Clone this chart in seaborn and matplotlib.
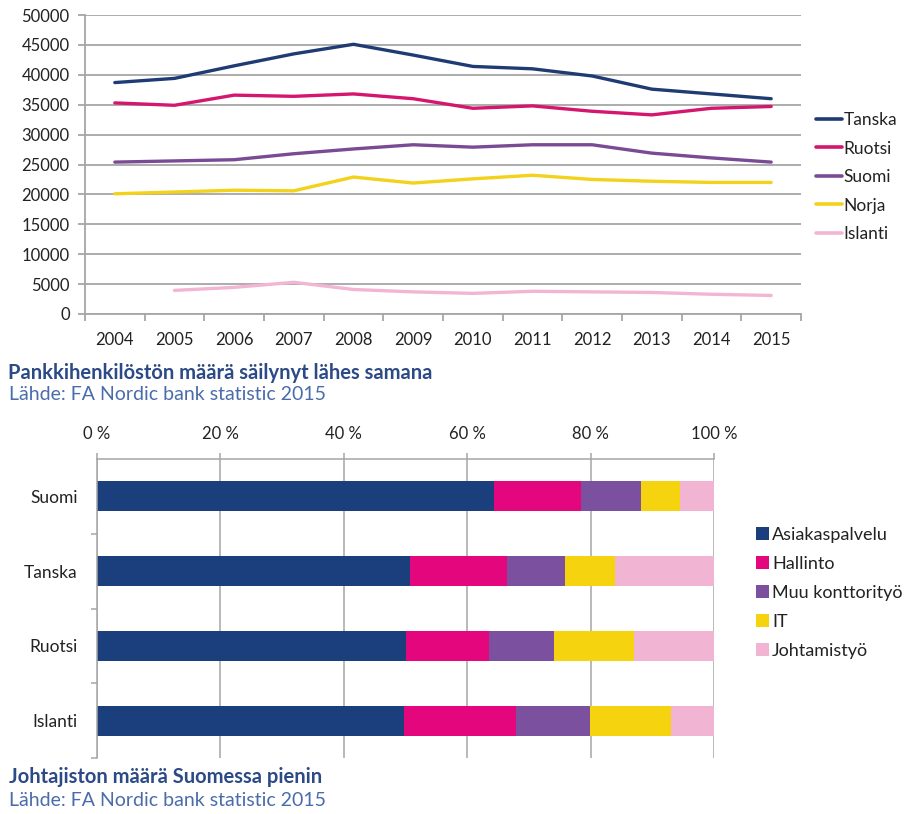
import numpy as np
import pandas as pd
import matplotlib
matplotlib.use("Agg")
import matplotlib.pyplot as plt
import seaborn as sns
from matplotlib.ticker import FixedLocator
from matplotlib.lines import Line2D

sns.set_theme(style="white")
plt.rcParams['font.family'] = ['Lato', 'DejaVu Sans']

# ---------------- data ----------------
years = [2004, 2005, 2006, 2007, 2008, 2009, 2010, 2011, 2012, 2013, 2014, 2015]
countries_line = ["Tanska", "Ruotsi", "Suomi", "Norja", "Islanti"]
tanska = [38700, 39400, 41500, 43500, 45100, 43300, 41400, 41000, 39800, 37600, 36800, 36000]
ruotsi = [35300, 34900, 36600, 36400, 36800, 36000, 34400, 34800, 33900, 33300, 34400, 34700]
suomi = [25400, 25600, 25800, 26800, 27600, 28300, 27900, 28300, 28300, 26900, 26100, 25400]
norja = [20100, 20400, 20700, 20600, 22900, 21900, 22600, 23200, 22500, 22200, 22000, 22000]
islanti = [np.nan, 3950, 4450, 5300, 4100, 3700, 3450, 3800, 3700, 3600, 3300, 3100]
line_colors = ["#1f3b73", "#d4166f", "#7a4b94", "#f2d21b", "#f2b6d4"]

countries_bar = ["Suomi", "Tanska", "Ruotsi", "Islanti"]
job_types = ["Asiakaspalvelu", "Hallinto", "Muu konttorityö", "IT", "Johtamistyö"]
asiakaspalvelu = [64.3, 50.7, 50.1, 49.7]
hallinto = [14.2, 15.8, 13.5, 18.2]
muu = [9.6, 9.3, 10.5, 12.0]
it = [6.4, 8.2, 12.9, 13.2]
johtamis = [5.5, 16.0, 13.0, 6.9]
bar_colors = ["#1b3f7d", "#e4067d", "#7b509e", "#f6d30f", "#f1b4d3"]

xtick_pct = [0, 20, 40, 60, 80, 100]
ytick_vals = list(range(0, 50001, 5000))

title_color = "#2b4a86"
source_color = "#4a6cab"
grid_c = "#a6a6a6"
text_c = "#222222"

# ---------------- figure ----------------
fig = plt.figure(figsize=(9.07, 8.14), dpi=100)

# ----- top line chart -----
ax1 = fig.add_axes([85/907, 1-314/814, (801-85)/907, (314-15)/814])
line_df = pd.DataFrame({"year": years * 5,
                        "country": sum([[c]*len(years) for c in countries_line], []),
                        "value": tanska + ruotsi + suomi + norja + islanti})
sns.lineplot(data=line_df, x="year", y="value", hue="country",
             hue_order=countries_line, palette=line_colors, linewidth=2.4,
             ax=ax1, legend=False)
ax1.set_xlim(years[0]-0.5, years[-1]+0.5)
ax1.set_ylim(0, 50000)
ax1.set_xticks(years)
ax1.set_xticklabels([str(y) for y in years])
ax1.xaxis.set_minor_locator(FixedLocator(np.arange(years[0]-0.5, years[-1]+1, 1.0)))
ax1.set_yticks(ytick_vals)
ax1.set_yticklabels([str(v) for v in ytick_vals])
ax1.set_xlabel("")
ax1.set_ylabel("")
ax1.grid(axis="y", color=grid_c, linewidth=1.3)
ax1.set_axisbelow(True)
for s in ["top", "right"]:
    ax1.spines[s].set_visible(False)
for s in ["left", "bottom"]:
    ax1.spines[s].set_color(grid_c)
    ax1.spines[s].set_linewidth(1.3)
ax1.tick_params(axis="x", which="major", length=0, pad=13, labelsize=12, labelcolor=text_c)
ax1.tick_params(axis="x", which="minor", bottom=True, length=5, width=1.3, color=grid_c)
ax1.tick_params(axis="y", which="major", left=True, length=5, width=1.3, color=grid_c,
                labelsize=12, labelcolor=text_c, pad=6)

handles = [Line2D([0], [0], color=c, lw=2.6) for c in line_colors]
fig.legend(handles, countries_line, loc="center left",
           bbox_to_anchor=(816/907, 1-177/814), bbox_transform=fig.transFigure,
           frameon=False, fontsize=12.5, handlelength=1.5, handletextpad=0.1,
           labelspacing=0.72, borderpad=0, borderaxespad=0, labelcolor=text_c)

fig.text(8/907, 1-373/814, "Pankkihenkilöstön määrä säilynyt lähes samana",
         fontsize=14.5, fontweight="bold", color=title_color, va="center", ha="left")
fig.text(9/907, 1-394/814, "Lähde: FA Nordic bank statistic 2015",
         fontsize=14, color=source_color, va="center", ha="left")

# ----- bottom stacked bar chart -----
ax2 = fig.add_axes([97/907, 1-758/814, (714-97)/907, (758-459)/814])
bar_df = pd.DataFrame({"country": countries_bar,
                       job_types[0]: asiakaspalvelu, job_types[1]: hallinto,
                       job_types[2]: muu, job_types[3]: it, job_types[4]: johtamis})
cum = bar_df[job_types].cumsum(axis=1)
for jt, col in reversed(list(zip(job_types, bar_colors))):
    sns.barplot(x=cum[jt], y=bar_df["country"], order=countries_bar, orient="h",
                color=col, width=0.4, ax=ax2, label=jt, saturation=1,
                edgecolor="none", linewidth=0)
h, l = ax2.get_legend_handles_labels()
if ax2.get_legend() is not None:
    ax2.get_legend().remove()
ax2.set_xlim(0, 100)
ax2.set_ylim(3.5, -0.5)
ax2.set_xticks(xtick_pct)
ax2.set_xticklabels([f"{p} %" for p in xtick_pct])
ax2.xaxis.tick_top()
ax2.yaxis.set_minor_locator(FixedLocator([0.5, 1.5, 2.5, 3.5]))
ax2.set_xlabel("")
ax2.set_ylabel("")
ax2.grid(axis="x", color=grid_c, linewidth=1.1)
ax2.set_axisbelow(True)
for s in ["right", "bottom"]:
    ax2.spines[s].set_visible(False)
for s in ["left", "top"]:
    ax2.spines[s].set_color(grid_c)
    ax2.spines[s].set_linewidth(1.1)
ax2.tick_params(axis="x", which="major", top=True, length=4, width=1.1, color=grid_c,
                labelsize=12, labelcolor=text_c, pad=8)
ax2.tick_params(axis="y", which="major", length=0, labelsize=12.5, labelcolor=text_c, pad=14)
ax2.tick_params(axis="y", which="minor", left=True, length=4, width=1.1, color=grid_c)

order = [l.index(j) for j in job_types]
fig.legend([h[i] for i in order], [l[i] for i in order], loc="center left",
           bbox_to_anchor=(756/907, 1-593/814), bbox_transform=fig.transFigure,
           frameon=False, fontsize=13, handlelength=0.7, handleheight=0.7,
           handletextpad=0.2, labelspacing=0.72, borderpad=0, borderaxespad=0,
           labelcolor=text_c)

fig.text(9/907, 1-777/814, "Johtajiston määrä Suomessa pienin",
         fontsize=14.5, fontweight="bold", color=title_color, va="center", ha="left")
fig.text(9/907, 1-800/814, "Lähde: FA Nordic bank statistic 2015",
         fontsize=14, color=source_color, va="center", ha="left")

fig.savefig("out.png", dpi=100)
